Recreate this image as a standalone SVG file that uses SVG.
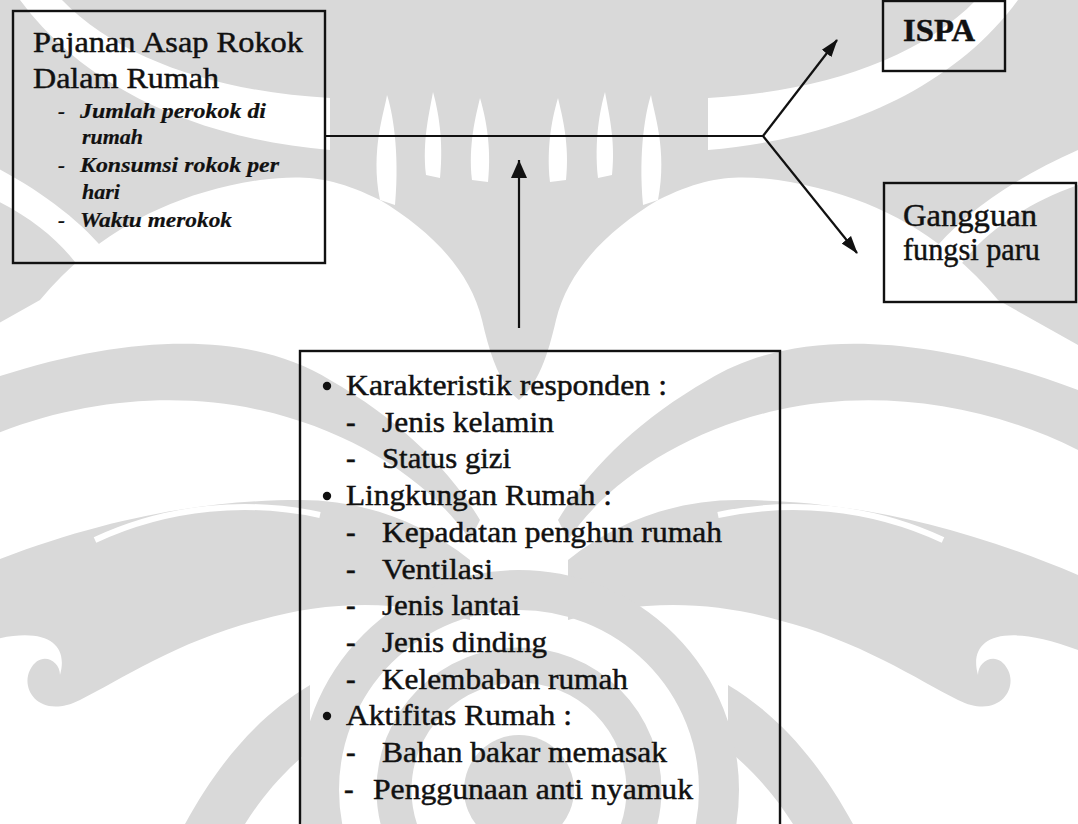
<svg xmlns="http://www.w3.org/2000/svg" width="1078" height="824" viewBox="0 0 1078 824">
<style>
.box{fill:none;stroke:#111;stroke-width:2.4}
.t{font-family:"Liberation Serif","Times New Roman",Times,serif;fill:#111;font-size:29px;stroke:#111;stroke-width:0.45}
.r{font-size:32px}
.b{font-weight:bold}
.i{font-style:italic;font-weight:bold;font-size:21px;stroke-width:0.2}
.ln{fill:none;stroke:#111;stroke-width:2.2}
.wm{fill:#d9d9d9}
.wl{fill:#fff}
.wr{fill:none;stroke:#d9d9d9}
</style>
<defs>
<marker id="ah" markerUnits="userSpaceOnUse" markerWidth="20" markerHeight="14" refX="17" refY="7" orient="auto">
<path d="M0,1 L18,7 L0,13 Z" fill="#111"/>
</marker>
<marker id="ahb" markerUnits="userSpaceOnUse" markerWidth="20" markerHeight="18" refX="18" refY="9" orient="auto">
<path d="M0,1 L18,9 L0,17 Z" fill="#111"/>
</marker>
<g id="wmhalf">
<path class="wm" d="M-40,0 H519 V400 C500,385 490,355 482,320 C470,270 430,230 380,200 C330,175 300,175 260,180 C160,195 90,240 40,300 L-40,345 Z"/>
<path class="wl" d="M20,0 H62 C120,60 220,92 330,98 V150 C210,140 90,95 20,0 Z"/>
<path class="wl" d="M-40,150 C40,185 105,235 130,290 L95,295 C75,250 30,210 -40,185 Z"/>
<path class="wl" d="M380,200 C370,150 385,110 387,95 C392,110 400,150 395,205 Z"/>
<path class="wl" d="M426,175 C422,140 430,110 433,92 C438,110 444,140 440,178 Z"/>
<path class="wl" d="M472,180 C468,145 476,115 480,98 C485,115 492,145 488,182 Z"/>
<ellipse class="wl" cx="435" cy="330" rx="15" ry="30"/>
<path class="wm" d="M-40,390 C120,330 250,330 330,380 C400,420 450,470 480,520 L470,540 C430,480 350,430 260,410 C170,390 60,400 -40,450 Z"/>
<path class="wm" d="M-40,575 C90,520 200,500 300,500 C360,500 420,520 470,560 L470,620 C400,600 330,600 260,620 C180,640 120,680 80,700 C40,720 20,690 30,670 C40,650 60,660 60,675 C70,640 40,620 -40,650 Z"/>
<path fill="none" stroke="#fff" stroke-width="6" d="M95,540 C170,505 250,500 320,515"/>
<path class="wm" d="M185,824 C220,760 260,715 310,685 L310,750 C280,775 260,800 245,824 Z"/>
</g>
</defs>
<rect width="1078" height="824" fill="#fff"/>
<g id="watermark">
<use href="#wmhalf"/>
<use href="#wmhalf" transform="translate(1038,0) scale(-1,1)"/>
<circle class="wr" cx="519" cy="790" r="200" stroke-width="40"/>
<circle class="wr" cx="519" cy="790" r="125" stroke-width="35"/>
<circle class="wm" cx="519" cy="790" r="55"/>
</g>
<g id="connectors">
<path class="ln" d="M325,136 L763,136"/>
<path class="ln" d="M763,136 L837,40" marker-end="url(#ah)"/>
<path class="ln" d="M763,136 L857,253" marker-end="url(#ah)"/>
<path class="ln" d="M519,328 L519,160" stroke-width="3" marker-end="url(#ahb)"/>
</g>
<g id="node-pajanan">
<rect class="box" x="13" y="11" width="312" height="252"/>
<text class="t" x="33" y="52" textLength="270" lengthAdjust="spacingAndGlyphs">Pajanan Asap Rokok</text>
<text class="t" x="33" y="88" textLength="186" lengthAdjust="spacingAndGlyphs">Dalam Rumah</text>
<text class="t i" x="58" y="118">-</text>
<text class="t i" x="80" y="118" textLength="186" lengthAdjust="spacingAndGlyphs">Jumlah perokok di</text>
<text class="t i" x="82" y="144" textLength="61" lengthAdjust="spacingAndGlyphs">rumah</text>
<text class="t i" x="58" y="172">-</text>
<text class="t i" x="80" y="172" textLength="199" lengthAdjust="spacingAndGlyphs">Konsumsi rokok per</text>
<text class="t i" x="82" y="199" textLength="38" lengthAdjust="spacingAndGlyphs">hari</text>
<text class="t i" x="58" y="227">-</text>
<text class="t i" x="80" y="227" textLength="152" lengthAdjust="spacingAndGlyphs">Waktu merokok</text>
</g>
<g id="node-ispa">
<rect class="box" x="883" y="1" width="122" height="70"/>
<text class="t r b" x="903" y="41" textLength="72" lengthAdjust="spacingAndGlyphs">ISPA</text>
</g>
<g id="node-gangguan">
<rect class="box" x="884" y="183" width="192" height="119"/>
<text class="t r" x="903" y="226" textLength="134" lengthAdjust="spacingAndGlyphs">Gangguan</text>
<text class="t r" x="903" y="260" textLength="137" lengthAdjust="spacingAndGlyphs">fungsi paru</text>
</g>
<g id="node-faktor">
<rect class="box" x="300" y="351" width="480" height="480"/>
<circle cx="327" cy="386" r="4.2" fill="#111"/>
<text class="t" x="346" y="395" textLength="321" lengthAdjust="spacingAndGlyphs">Karakteristik responden :</text>
<text class="t" x="346" y="431.7">-</text>
<text class="t" x="382" y="431.7" textLength="172" lengthAdjust="spacingAndGlyphs">Jenis kelamin</text>
<text class="t" x="346" y="468.4">-</text>
<text class="t" x="382" y="468.4" textLength="129" lengthAdjust="spacingAndGlyphs">Status gizi</text>
<circle cx="327" cy="496" r="4.2" fill="#111"/>
<text class="t" x="346" y="505.1" textLength="266" lengthAdjust="spacingAndGlyphs">Lingkungan Rumah :</text>
<text class="t" x="346" y="541.8">-</text>
<text class="t" x="382" y="541.8" textLength="340" lengthAdjust="spacingAndGlyphs">Kepadatan penghun rumah</text>
<text class="t" x="346" y="578.5">-</text>
<text class="t" x="382" y="578.5" textLength="111" lengthAdjust="spacingAndGlyphs">Ventilasi</text>
<text class="t" x="346" y="615.2">-</text>
<text class="t" x="382" y="615.2" textLength="138" lengthAdjust="spacingAndGlyphs">Jenis lantai</text>
<text class="t" x="346" y="651.9">-</text>
<text class="t" x="382" y="651.9" textLength="165" lengthAdjust="spacingAndGlyphs">Jenis dinding</text>
<text class="t" x="346" y="688.6">-</text>
<text class="t" x="382" y="688.6" textLength="246" lengthAdjust="spacingAndGlyphs">Kelembaban rumah</text>
<circle cx="327" cy="716" r="4.2" fill="#111"/>
<text class="t" x="346" y="725.3" textLength="226" lengthAdjust="spacingAndGlyphs">Aktifitas Rumah :</text>
<text class="t" x="346" y="762">-</text>
<text class="t" x="382" y="762" textLength="285" lengthAdjust="spacingAndGlyphs">Bahan bakar memasak</text>
<text class="t" x="344" y="798.7">-</text>
<text class="t" x="373" y="798.7" textLength="320" lengthAdjust="spacingAndGlyphs">Penggunaan anti nyamuk</text>
</g>
</svg>
